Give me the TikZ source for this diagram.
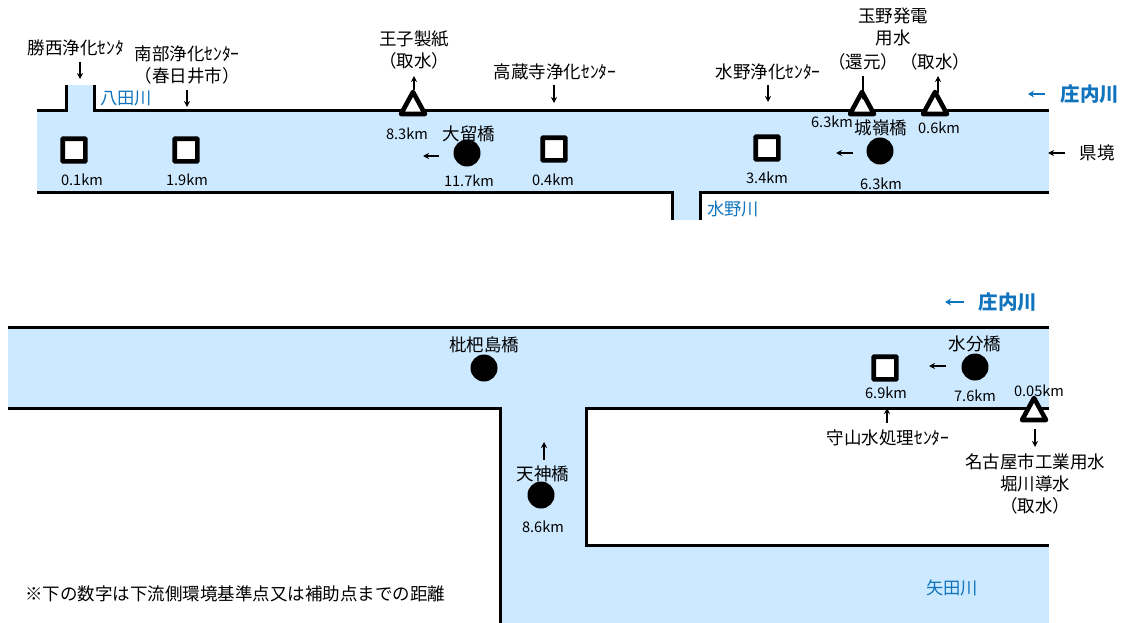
\documentclass[tikz,border=0pt]{standalone}
\usepackage{fontspec}
\usepackage{xcolor}
\usepackage{tikz}
\usetikzlibrary{arrows.meta,shapes.geometric}
\setmainfont{Noto Sans CJK JP}
\definecolor{river}{HTML}{CCE9FF}
\definecolor{ink}{HTML}{000000}
\definecolor{blue}{HTML}{0F74BD}
\tikzset{
  bank/.style={draw=ink, line width=3pt},
  flow/.style={draw=ink, line width=1.1pt, -{Stealth[length=6pt,width=6pt]}},
  bluearrow/.style={draw=blue, line width=1.6pt, -{Stealth[length=6pt,width=7pt]}},
  sq/.style={rectangle, draw=ink, fill=white, line width=4.6pt, minimum size=22.6pt, inner sep=0pt, rounded corners=0.5pt},
  dot/.style={circle, fill=ink, minimum size=27pt, inner sep=0pt},
  tri/.style={draw=ink, fill=white, line width=4.6pt, line join=round},
  lbl/.style={text=ink, font=\fontsize{17.5}{22}\selectfont, inner sep=0pt, align=center},
  km/.style={text=ink, font=\fontsize{14.6}{16}\selectfont, inner sep=0pt},
  rname/.style={text=blue, font=\fontsize{17.3}{20}\selectfont, inner sep=0pt},
  rmain/.style={text=blue, font=\fontsize{19.5}{22}\selectfont\bfseries, inner sep=0pt}
}

\begin{document}
\begin{tikzpicture}[x=1pt,y=-1pt]
  \useasboundingbox (0,0) rectangle (1126,623);

  % upper reach
  \fill[river] (37,112) rectangle (1049,192);
  \fill[river] (66,85) rectangle (94,112);
  \fill[river] (672,190) rectangle (700,220);
  \draw[bank] (37,111)--(66,111)--(66,85);
  \draw[bank] (94,85)--(94,111)--(1049,111);
  \draw[bank] (37,192)--(672,192)--(672,220);
  \draw[bank] (700,220)--(700,192)--(1049,192);

  % lower reach
  \fill[river] (8,327) rectangle (1049,408);
  \fill[river] (500,408) rectangle (586,623);
  \fill[river] (586,545) rectangle (1049,623);
  \draw[bank] (8,327)--(1049,327);
  \draw[bank] (8,408)--(500,408)--(500,623);
  \draw[bank] (1049,408)--(586,408)--(586,545)--(1049,545);

  % markers
  \node[sq] (katsunishi) at (74,150) {};
  \node[sq] (nanbu) at (186,150) {};
  \node[sq] (kozoji) at (554,149) {};
  \node[sq] (mizuno) at (767,148) {};
  \node[sq] (moriyama) at (885,368) {};

  \node[dot] (otome) at (467,153) {};
  \node[dot] (joryo) at (880,151) {};
  \node[dot] (biwajima) at (484,368) {};
  \node[dot] (tenjin) at (541,495) {};
  \node[dot] (mizuwake) at (975,367) {};

  \draw[tri] (401,114)--(413,92)--(425,114)--cycle;
  \draw[tri] (850,114)--(862,92)--(874,114)--cycle;
  \draw[tri] (923,114)--(935,92)--(947,114)--cycle;
  \draw[tri] (1022,420)--(1034,398)--(1046,420)--cycle;

  % labels
  \node[lbl] (lkatsunishi) at (76,48) {勝西浄化ｾﾝﾀ};
  \node[lbl] (lnanbu) at (187,65) {南部浄化ｾﾝﾀｰ\\（春日井市）};
  \node[lbl] (loji) at (414,50) {王子製紙\\（取水）};
  \node[lbl] (lkozoji) at (555,72) {高蔵寺浄化ｾﾝﾀｰ};
  \node[lbl] (lmizuno) at (768,72) {水野浄化ｾﾝﾀｰ};
  \node[lbl] (ltamano) at (893,27) {玉野発電\\用水};
  \node[lbl] (lreturn) at (863,62) {（還元）};
  \node[lbl] (lintake) at (935,62) {（取水）};
  \node[lbl] (lotome) at (469,134) {大留橋};
  \node[lbl] (ljoryo) at (881,128) {城嶺橋};
  \node[lbl] (lkenkyo) at (1097,153) {県境};
  \node[lbl] (lbiwajima) at (484,345) {枇杷島橋};
  \node[lbl] (ltenjin) at (543,474) {天神橋};
  \node[lbl] (lmizuwake) at (975,344) {水分橋};
  \node[lbl] (lmoriyama) at (888,438) {守山水処理ｾﾝﾀｰ};
  \node[lbl] (lnagoya) at (1035,484) {名古屋市工業用水\\堀川導水\\（取水）};
  \node[lbl, anchor=west] (lnote) at (25,594) {※下の数字は下流側環境基準点又は補助点までの距離};

  \node[km] at (82,180) {0.1km};
  \node[km] at (187,180) {1.9km};
  \node[km] at (407,134) {8.3km};
  \node[km] at (469,181) {11.7km};
  \node[km] at (553,180) {0.4km};
  \node[km] at (767,178) {3.4km};
  \node[km] at (832,122) {6.3km};
  \node[km] at (939,128) {0.6km};
  \node[km] at (881,184) {6.3km};
  \node[km] at (886,393) {6.9km};
  \node[km] at (975,396) {7.6km};
  \node[km] at (1039,391) {0.05km};
  \node[km] at (543,527) {8.6km};

  % river names
  \node[rname] (yada) at (126,98) {八田川};
  \node[rname] (mizunoriver) at (733,209) {水野川};
  \node[rname] (yadagawa) at (952,588) {矢田川};
  \node[rmain] (shonai) at (1090,94) {庄内川};
  \node[rmain] (shonaib) at (1008,302) {庄内川};
  \coordinate (ua) at (1045,94);
  \coordinate (ub) at (1028,94);
  \coordinate (la) at (964,302);
  \coordinate (lb) at (945,302);
  \draw[bluearrow] (ua)--(ub);
  \draw[bluearrow] (la)--(lb);

  % flow arrows
  \draw[flow] (80,62)--(80,79);
  \draw[flow] (187,90)--(187,107);
  \draw[flow] (554,85)--(554,103);
  \draw[flow] (768,85)--(768,102);
  \draw[flow] (863,76)--(863,100);
  \draw[flow] (938,93)--(938,76);
  \draw[flow] (414,90)--(414,76);
  \draw[flow] (1035,429)--(1035,447);
  \draw[flow] (887,423)--(887,408);
  \draw[flow] (544,460)--(544,442);
  \draw[flow] (439,156)--(423,156);
  \draw[flow] (853,153)--(836,153);
  \draw[flow] (946,366)--(929,366);
  \draw[flow] (1065,153)--(1048,153);
\end{tikzpicture}
\end{document}
